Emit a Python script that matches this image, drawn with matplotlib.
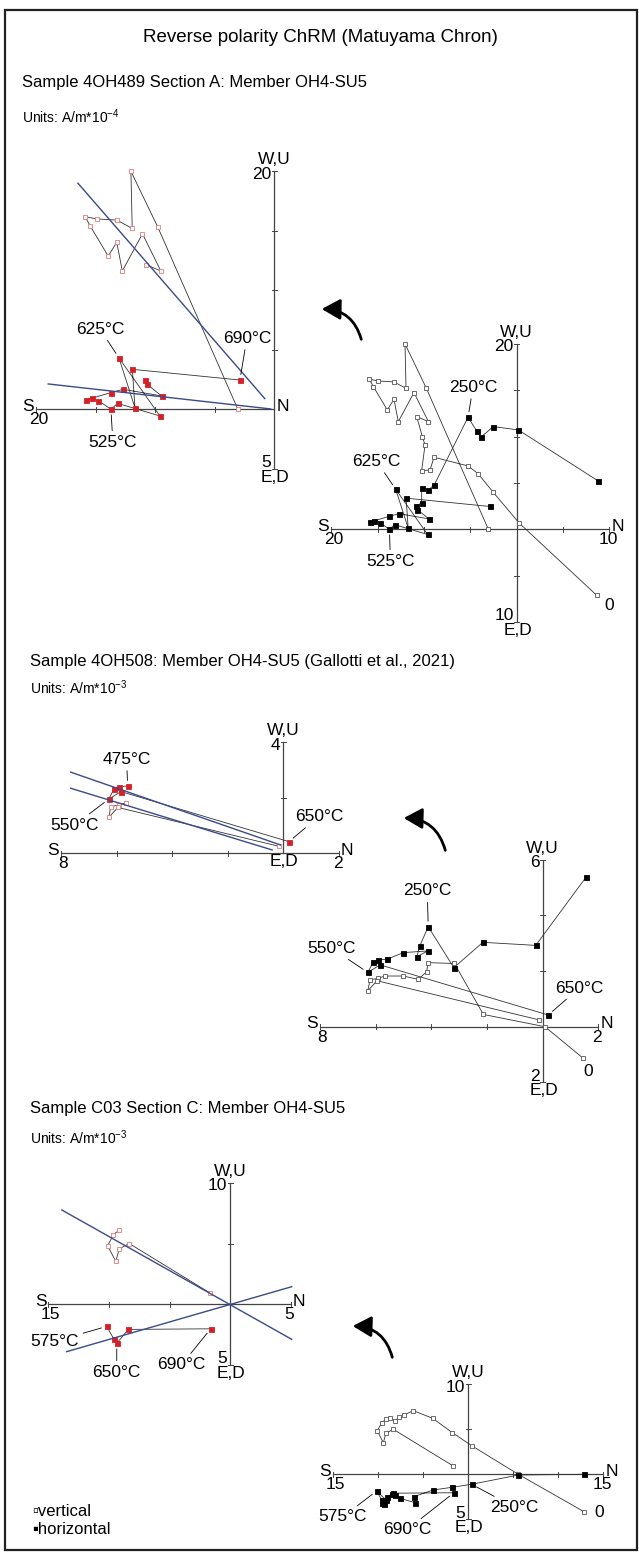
import numpy as np
import matplotlib
matplotlib.use("Agg")
import matplotlib.pyplot as plt
from matplotlib.patches import FancyArrowPatch, Rectangle

plt.rcParams['font.family'] = ['Liberation Sans', 'DejaVu Sans']
plt.rcParams['mathtext.fontset'] = 'custom'
plt.rcParams['mathtext.rm'] = 'Liberation Sans'
plt.rcParams['mathtext.default'] = 'regular'

# --- dane (jednostki jak na osiach) ---
# Sample 4OH489 (A/m*10^-4)
s1_vert_n = [8.63, 0.29, -2.59, -4.14, -5.22, -8.92, -9.35, -10.25, -9.89, -10.18, -10.79, -9.53,
             -11.08, -12.77, -13.24, -13.96, -15.47, -15.90, -14.93, -13.24, -11.94, -12.05, -9.78, -3.06]
s1_vert_u = [-7.12, 0.65, 4.06, 5.97, 6.83, 7.77, 6.40, 6.33, 9.10, 10.0, 12.16, 11.62,
             14.75, 11.62, 14.03, 12.88, 15.40, 16.19, 16.0, 15.9, 15.2, 20.0, 15.29, 0.0]
s1_hor_n = [8.74, 0.18, -2.52, -3.88, -4.32, -5.25, -8.88, -9.53, -10.25, -10.25, -10.87, -10.73, -9.47,
            -12.69, -13.75, -15.83, -15.35, -14.79, -13.73, -13.17, -9.61, -13.05, -11.71, -11.93, -2.89]
s1_hor_w = [5.25, 10.72, 11.08, 9.93, 10.61, 12.09, 4.82, 4.24, 4.46, 2.88, 2.46, 2.13, 1.12,
            1.68, 1.40, 0.78, 0.92, 0.73, 0.0, 0.5, -0.56, 4.31, 0.14, 3.36, 2.46]
s1_fit_x = [[-16.5, -0.8], [-19.0, -0.3]]
s1_fit_y = [[19.0, 0.9], [2.13, 0.03]]
s1_start = 10

# Sample 4OH508 (A/m*10^-3)
s2_vert_n = [1.45, 0.08, -2.13, -3.17, -4.11, -4.17, -4.47, -5.01, -5.66, -5.90, -6.20, -6.28, -5.95, -0.15]
s2_vert_u = [-1.13, 0.0, 0.44, 2.27, 2.30, 1.97, 1.70, 1.82, 1.82, 1.74, 1.68, 1.29, 1.65, 0.25]
s2_hor_n = [1.55, -0.25, -2.15, -3.19, -4.11, -4.41, -4.52, -4.13, -5.00, -5.60, -5.90, -6.08, -6.28, -5.84, 0.20]
s2_hor_w = [5.36, 2.92, 3.03, 2.12, 3.59, 2.91, 2.51, 2.72, 2.66, 2.42, 2.40, 2.33, 1.95, 2.22, 0.42]
s2_fit_x = [[-7.65, -0.1], [-7.65, -0.4]]
s2_fit_y = [[2.92, 0.3], [2.34, 0.12]]
s2_start_v, s2_start_h = 8, 9

# Sample C03 (A/m*10^-3)
s3_vert_n = [12.86, 5.56, 0.37, -1.78, -3.96, -6.11, -7.14, -7.70, -8.15, -8.70, -9.15, -9.63, -10.11,
             -9.44, -9.15, -8.33, -1.67]
s3_vert_u = [-4.16, 0.0, 3.18, 4.63, 6.22, 7.07, 6.59, 6.33, 5.96, 6.22, 6.11, 5.74, 4.81,
             3.52, 4.56, 5.00, 0.92]
s3_hor_n = [12.86, 5.56, 0.37, -1.78, -3.89, -6.04, -5.93, -7.59, -8.15, -8.52, -9.00, -9.63, -9.15,
            -10.18, -9.60, -9.36, -8.40, -1.60]
s3_hor_w = [0.0, -0.08, -1.11, -1.44, -1.74, -2.48, -3.15, -2.67, -2.30, -2.19, -2.48, -3.15, -2.85,
            -1.85, -2.90, -3.25, -2.10, -2.05]
s3_fit_x = [[-13.9, 5.1], [-13.5, 5.1]]
s3_fit_y = [[7.77, -2.92], [-3.94, 1.43]]
s3_start_v, s3_start_h = 10, 13

W, H = 639, 1552
fig = plt.figure(figsize=(W / 100, H / 100), dpi=100)

RED = '#d62027'
RED_OPEN = '#e07a7a'
BLUE = '#3b4a8a'
AX_COL = '#444444'
FS_AX = 12.5   # opisy osi
FS_T = 12.5    # etykiety temperatur


def make_axes(ox, oy, s, xlim, ylim):
    """Osie w pikselach: poczatek ukladu (ox, oy), skala s px/jednostke"""
    x0 = ox + xlim[0] * s
    x1 = ox + xlim[1] * s
    ytop = oy - ylim[1] * s
    ybot = oy - ylim[0] * s
    ax = fig.add_axes([x0 / W, 1 - ybot / H, (x1 - x0) / W, (ybot - ytop) / H])
    ax.set_xlim(xlim)
    ax.set_ylim(ylim)
    ax.axis('off')
    return ax


def cross(ax, s, xr, yr, step, xl, yl, fs=FS_AX):
    ax.plot(xr, [0, 0], color=AX_COL, lw=0.9, clip_on=False)
    ax.plot([0, 0], yr, color=AX_COL, lw=0.9, clip_on=False)
    h = 2.5 / s
    for t in np.arange(np.ceil(xr[0] / step) * step, xr[1] + 1e-9, step):
        if abs(t) > 1e-9:
            ax.plot([t, t], [-h, h], color=AX_COL, lw=0.7, clip_on=False)
    for t in np.arange(np.ceil(yr[0] / step) * step, yr[1] + 1e-9, step):
        if abs(t) > 1e-9:
            ax.plot([-h, h], [t, t], color=AX_COL, lw=0.7, clip_on=False)
    kw = dict(textcoords='offset pixels', fontsize=fs, annotation_clip=False)
    ax.annotate('S', (xr[0], 0), xytext=(-2, 3), ha='right', va='center', **kw)
    ax.annotate(xl[0], (xr[0], 0), xytext=(2, -3), ha='center', va='top', **kw)
    ax.annotate('N', (xr[1], 0), xytext=(2, 3), ha='left', va='center', **kw)
    if xl[1]:
        ax.annotate(xl[1], (xr[1], 0), xytext=(-1, -3), ha='center', va='top', **kw)
    ax.annotate('W,U', (0, yr[1]), xytext=(0, 4), ha='center', va='bottom', **kw)
    ax.annotate(yl[1], (0, yr[1]), xytext=(-3, -3), ha='right', va='center', **kw)
    if yr[0] < 0:
        ax.annotate(yl[0], (0, yr[0]), xytext=(-3, 6), ha='right', va='center', **kw)
    ax.annotate('E,D', (0, yr[0]), xytext=(1, -1), ha='center', va='top', **kw)


def series(ax, xs, ys, start, filled, red):
    xs = np.asarray(xs)[start:]
    ys = np.asarray(ys)[start:]
    ax.plot(xs, ys, color='#333333', lw=0.6, clip_on=False, zorder=2)
    if red:
        mfc = RED if filled else 'white'
        mec = RED if filled else RED_OPEN
    else:
        mfc = 'black' if filled else 'white'
        mec = 'black' if filled else '#555555'
    ax.plot(xs, ys, ls='none', marker='s', ms=3.6 if filled else 3.0, mfc=mfc, mec=mec,
            mew=0.6, clip_on=False, zorder=3)


def fits(ax, fx, fy):
    for x, y in zip(fx, fy):
        ax.plot(x, y, color=BLUE, lw=1.0, clip_on=False, zorder=4)


def label(ax, txt, xy, off, leader=True, fs=FS_T):
    ap = dict(arrowstyle='-', lw=0.6, color='k', shrinkA=1, shrinkB=4) if leader else None
    ax.annotate(txt, xy, xytext=off, textcoords='offset pixels', ha='center', va='center',
                fontsize=fs, arrowprops=ap, annotation_clip=False, zorder=5)


def arrow(tail, head):
    a = FancyArrowPatch((tail[0] / W, 1 - tail[1] / H), (head[0] / W, 1 - head[1] / H),
                        transform=fig.transFigure, connectionstyle='arc3,rad=0.4',
                        arrowstyle='-|>,head_length=0.8,head_width=0.45', mutation_scale=14,
                        lw=2.0, color='black')
    fig.patches.append(a)


# --- naglowki ---
fig.text(320 / W, 1 - 37 / H, 'Reverse polarity ChRM (Matuyama Chron)', ha='center', va='center', fontsize=13.5)
fig.text(22 / W, 1 - 82 / H, 'Sample 4OH489 Section A: Member OH4-SU5', ha='left', va='center', fontsize=12)
fig.text(22 / W, 1 - 117 / H, 'Units: A/m*10$^{-4}$', ha='left', va='center', fontsize=10)
fig.text(30 / W, 1 - 661 / H, 'Sample 4OH508: Member OH4-SU5 (Gallotti et al., 2021)', ha='left', va='center', fontsize=12)
fig.text(30 / W, 1 - 688 / H, 'Units: A/m*10$^{-3}$', ha='left', va='center', fontsize=10)
fig.text(30 / W, 1 - 1108 / H, 'Sample C03 Section C: Member OH4-SU5', ha='left', va='center', fontsize=12)
fig.text(30 / W, 1 - 1138 / H, 'Units: A/m*10$^{-3}$', ha='left', va='center', fontsize=10)
fig.text(32 / W, 1 - 1511 / H, '\u25abvertical', ha='left', va='center', fontsize=12)
fig.text(32 / W, 1 - 1529 / H, '\u25aahorizontal', ha='left', va='center', fontsize=12)

# --- Sample 1: prawy (wszystkie kroki) ---
ax = make_axes(516.7, 529.3, 9.27, (-20, 10), (-10, 20))
cross(ax, 9.27, (-20, 10), (-10, 20), 5, ('20', '10'), ('10', '20'))
series(ax, s1_vert_n, s1_vert_u, 0, False, False)
series(ax, s1_hor_n, s1_hor_w, 0, True, False)
label(ax, '250°C', (s1_hor_n[5], s1_hor_w[5]), (5, 30))
label(ax, '625°C', (s1_hor_n[21], s1_hor_w[21]), (-19, 28))
label(ax, '525°C', (s1_hor_n[18], s1_hor_w[18]), (1, -32))
label(ax, '0', (s1_vert_n[0], s1_vert_u[0]), (12, -10), leader=False)

# --- Sample 1: lewy (skladowa wysokotemperaturowa) ---
ax = make_axes(274.3, 409.3, 11.9, (-20, 0), (-5, 20))
cross(ax, 11.9, (-20, 0), (-5, 20), 5, ('20', None), ('5', '20'))
series(ax, s1_vert_n, s1_vert_u, s1_start, False, True)
series(ax, s1_hor_n, s1_hor_w, s1_start, True, True)
fits(ax, s1_fit_x, s1_fit_y)
label(ax, '625°C', (s1_hor_n[21], s1_hor_w[21]), (-19, 29))
label(ax, '690°C', (s1_hor_n[24], s1_hor_w[24]), (7, 42))
label(ax, '525°C', (s1_hor_n[18], s1_hor_w[18]), (2, -33))

# --- Sample 2: lewy ---
ax = make_axes(283.3, 853.3, 27.8, (-8, 2), (0, 4))
cross(ax, 27.8, (-8, 2), (0, 4), 2, ('8', '2'), (None, '4'))
series(ax, s2_vert_n, s2_vert_u, s2_start_v, False, True)
series(ax, s2_hor_n, s2_hor_w, s2_start_h, True, True)
fits(ax, s2_fit_x, s2_fit_y)
label(ax, '475°C', (s2_hor_n[9], s2_hor_w[9]), (-1, 27))
label(ax, '550°C', (s2_hor_n[12], s2_hor_w[12]), (-34, -26))
label(ax, '650°C', (s2_hor_n[14], s2_hor_w[14]), (30, 25))

# --- Sample 2: prawy ---
ax = make_axes(542.7, 1026.7, 27.85, (-8, 2), (-2, 6))
cross(ax, 27.85, (-8, 2), (-2, 6), 2, ('8', '2'), ('2', '6'))
series(ax, s2_vert_n, s2_vert_u, 0, False, False)
series(ax, s2_hor_n, s2_hor_w, 0, True, False)
label(ax, '250°C', (s2_hor_n[4], s2_hor_w[4]), (-1, 36))
label(ax, '550°C', (s2_hor_n[12], s2_hor_w[12]), (-36, 24))
label(ax, '650°C', (s2_hor_n[14], s2_hor_w[14]), (31, 27))
label(ax, '0', (s2_vert_n[0], s2_vert_u[0]), (5, -13), leader=False)

# --- Sample 3: lewy ---
ax = make_axes(230, 1304, 12.1, (-15, 5), (-5, 10))
cross(ax, 12.1, (-15, 5), (-5, 10), 5, ('15', '5'), ('5', '10'))
series(ax, s3_vert_n, s3_vert_u, s3_start_v, False, True)
series(ax, s3_hor_n, s3_hor_w, s3_start_h, True, True)
fits(ax, s3_fit_x, s3_fit_y)
label(ax, '575°C', (s3_hor_n[13], s3_hor_w[13]), (-52, -15))
label(ax, '650°C', (s3_hor_n[15], s3_hor_w[15]), (0, -29))
label(ax, '690°C', (s3_hor_n[17], s3_hor_w[17]), (-29, -36))

# --- Sample 3: prawy ---
ax = make_axes(468.3, 1474.3, 9.0, (-15, 15), (-5, 10))
cross(ax, 9.0, (-15, 15), (-5, 10), 5, ('15', '15'), ('5', '10'))
series(ax, s3_vert_n, s3_vert_u, 0, False, False)
series(ax, s3_hor_n, s3_hor_w, 0, True, False)
label(ax, '575°C', (s3_hor_n[13], s3_hor_w[13]), (-34, -26))
label(ax, '690°C', (s3_hor_n[17], s3_hor_w[17]), (-47, -37))
label(ax, '250°C', (s3_hor_n[2], s3_hor_w[2]), (43, -23))
label(ax, '0', (s3_vert_n[0], s3_vert_u[0]), (15, -1), leader=False)

# --- strzalki obrotu ---
arrow((362, 342), (319, 309))
arrow((446, 853), (401, 818))
arrow((393, 1360), (350, 1326))

# ramka
fig.patches.append(Rectangle((5 / W, 1 - 1550 / H), 632 / W, 1540 / H, transform=fig.transFigure,
                             fill=False, lw=1.6, ec='#222222'))

fig.savefig('out.png', dpi=100)
